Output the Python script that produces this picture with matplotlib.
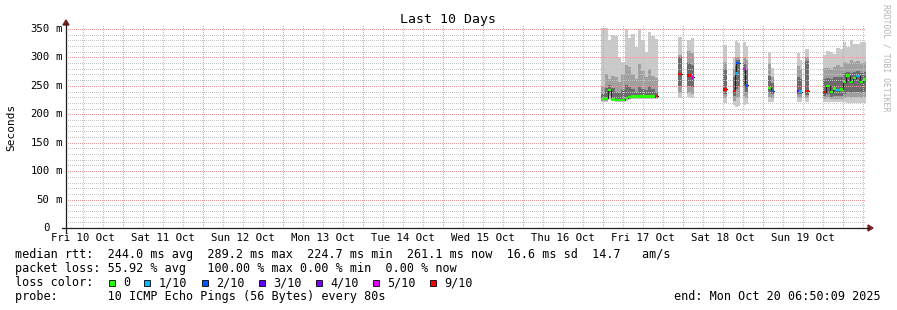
import datetime as dt
import matplotlib.pyplot as plt
import matplotlib.dates as mdates
import matplotlib.transforms as mtransforms
from matplotlib.patches import Rectangle, Polygon
from matplotlib.lines import Line2D
from matplotlib.ticker import MultipleLocator

plt.rcParams['font.family'] = ['DejaVu Sans Mono']

W, H = 897, 310
T0 = dt.datetime(2025, 10, 10)
START = dt.datetime(2025, 10, 10, 6, 50, 9)
END = dt.datetime(2025, 10, 20, 6, 50, 9)

# consolidated samples: start hour after Fri 10 Oct 00:00 (1 h each), values in ms
hours = [167.4, 168.4, 169.4, 170.4, 171.4, 172.4, 173.4, 174.4, 175.4, 176.4,
         177.4, 178.4, 179.4, 180.4, 181.4, 182.4, 183.4,
         190.5, 193.2, 194.2, 204.0, 206.8, 207.5, 207.9, 209.9, 210.5,
         217.4, 218.2, 226.0, 226.7, 228.6,
         233.9, 234.9, 235.9, 236.9, 237.9, 238.9, 239.9, 240.9, 241.9, 242.9,
         243.9, 244.9, 245.9]
ping_max = [352, 352, 330, 340, 338, 300, 292, 350, 335, 342,
            318, 350, 330, 310, 345, 338, 332,
            336, 330, 334, 322, 300, 329, 325, 327, 320,
            310, 282, 308, 296, 315,
            305, 312, 310, 306, 316, 314, 327, 318, 330, 324,
            323, 327, 327]
ping_hi80 = [250, 270, 262, 268, 265, 256, 270, 286, 283, 270,
             262, 288, 276, 266, 280, 268, 264,
             305, 312, 308, 292, 280, 300, 300, 300, 295,
             290, 265, 285, 280, 300,
             281, 282, 280, 284, 286, 283, 292, 290, 295, 292,
             294, 290, 292]
ping_hi60 = [236, 246, 252, 246, 240, 238, 242, 252, 248, 245,
             240, 248, 245, 242, 250, 245, 240,
             300, 290, 286, 280, 265, 285, 295, 290, 280,
             268, 255, 265, 262, 294,
             262, 264, 262, 265, 266, 266, 272, 275, 272, 274,
             276, 272, 274]
median = [227, 228, 243, 226, 225, 225, 225, 229, 230, 231,
          231, 231, 231, 231, 231, 231, 232,
          271, 268, 265, 244, 241, 272, 290, 280, 251,
          246, 241, 241, 240, 241,
          239, 250, 239, 245, 243, 244, 257, 268, 257, 264,
          267, 257, 261]
ping_lo40 = [225, 226, 238, 225, 224, 224, 224, 227, 228, 229,
             229, 229, 229, 229, 229, 229, 229,
             250, 250, 248, 235, 232, 245, 250, 250, 240,
             238, 235, 236, 235, 234,
             232, 236, 231, 233, 233, 233, 236, 240, 238, 240,
             240, 238, 240]
ping_lo20 = [224, 224, 232, 224, 223, 223, 223, 226, 227, 228,
             228, 228, 228, 228, 228, 228, 228,
             238, 238, 236, 228, 224, 228, 230, 232, 228,
             230, 228, 230, 229, 228,
             227, 228, 226, 227, 227, 227, 228, 230, 229, 230,
             230, 229, 230]
ping_min = [222, 222, 225, 223, 222, 222, 222, 224, 225, 226,
            226, 226, 226, 226, 226, 226, 226,
            229, 230, 228, 220, 216, 213, 215, 216, 218,
            222, 222, 222, 222, 222,
            222, 222, 221, 221, 221, 221, 221, 220, 220, 220,
            220, 220, 220]
loss = [0, 0, 0, 0, 0, 0, 0, 0, 0, 0,
        0, 0, 0, 0, 0, 0, 9,
        9, 9, 5, 9, 9, 1, 2, 5, 2,
        0, 2, 3, 1, 9,
        9, 0, 0, 0, 1, 0, 0, 0, 0, 0,
        1, 0, 0]

loss_levels = [0, 1, 2, 3, 4, 5, 9]
loss_labels = ["0", "1/10", "2/10", "3/10", "4/10", "5/10", "9/10"]
loss_colors = ["#26ff00", "#00b8ff", "#0059ff", "#5e00ff", "#7e00ff", "#dd00ff", "#ff0000"]

y_ticks = [0, 50, 100, 150, 200, 250, 300, 350]
day_labels = ["Fri 10 Oct", "Sat 11 Oct", "Sun 12 Oct", "Mon 13 Oct", "Tue 14 Oct",
              "Wed 15 Oct", "Thu 16 Oct", "Fri 17 Oct", "Sat 18 Oct", "Sun 19 Oct"]

stats_rtt = "median rtt:  244.0 ms avg  289.2 ms max  224.7 ms min  261.1 ms now  16.6 ms sd  14.7   am/s"
stats_loss = "packet loss: 55.92 % avg   100.00 % max 0.00 % min  0.00 % now"
probe_txt = "probe:       10 ICMP Echo Pings (56 Bytes) every 80s"
end_txt = "end: Mon Oct 20 06:50:09 2025"


def fx(px):
    return px / W


def fy(py):
    return 1 - py / H


fig = plt.figure(figsize=(W / 100, H / 100), dpi=100, facecolor='white')
ax = fig.add_axes([fx(66), fy(228), 800 / W, (228 - 25) / H])
ax.set_facecolor('white')

t = [T0 + dt.timedelta(hours=h) for h in hours]
bw = 1 / 24
color_of = dict(zip(loss_levels, loss_colors))

# smoke
ax.bar(t, [a - b for a, b in zip(ping_max, ping_min)], bottom=ping_min, width=bw,
       align='edge', color='#cacaca', linewidth=0, antialiased=False, zorder=1)
ax.bar(t, [a - b for a, b in zip(ping_hi80, ping_lo20)], bottom=ping_lo20, width=bw,
       align='edge', color='#a0a0a0', linewidth=0, antialiased=False, zorder=1.1)
ax.bar(t, [a - b for a, b in zip(ping_hi60, ping_lo40)], bottom=ping_lo40, width=bw,
       align='edge', color='#6c6c6c', linewidth=0, antialiased=False, zorder=1.2)

# median line, broken at gaps
run_t, run_m = [], []
for i, h in enumerate(hours):
    if run_t and h - hours[i - 1] > 1.01:
        run_t.append(T0 + dt.timedelta(hours=hours[i - 1] + 1))
        run_m.append(run_m[-1])
        ax.step(run_t, run_m, where='post', color='#202020', lw=0.8, zorder=3)
        run_t, run_m = [], []
    run_t.append(t[i])
    run_m.append(median[i])
run_t.append(T0 + dt.timedelta(hours=hours[-1] + 1))
run_m.append(run_m[-1])
ax.step(run_t, run_m, where='post', color='#202020', lw=0.8, zorder=3)

ax.bar(t, 4.4, bottom=[m - 2.2 for m in median], width=bw, align='edge',
       color=[color_of[l] for l in loss], linewidth=0, antialiased=False, zorder=4)

ax.set_xlim(START, END)
ax.set_ylim(0, 357)

ax.xaxis.set_major_locator(mdates.DayLocator())
ax.xaxis.set_minor_locator(mdates.HourLocator(byhour=[6, 12, 18]))
ax.set_yticks(y_ticks)
ax.yaxis.set_minor_locator(MultipleLocator(10))
ax.tick_params(which='both', length=0, labelbottom=False, labelleft=False)
ax.set_axisbelow(False)
ax.grid(which='minor', color='#c4c4c4', lw=0.72, ls=(0.5, (1, 1)), snap=True)
ax.grid(which='major', color='#e89a9a', lw=0.72, ls=(0.5, (1, 1)), snap=True)
for s in ax.spines.values():
    s.set_visible(False)

# axes with arrows
fig.add_artist(Line2D([fx(66), fx(66)], [fy(233), fy(23)], color='#1f1f1f', lw=0.9))
fig.add_artist(Line2D([fx(62), fx(869)], [fy(228), fy(228)], color='#1f1f1f', lw=0.9))
fig.add_artist(Polygon([[fx(63), fy(25)], [fx(69), fy(25)], [fx(66), fy(20)]],
                       closed=True, color='#7f1f1f', transform=fig.transFigure))
fig.add_artist(Polygon([[fx(868), fy(225)], [fx(868), fy(231)], [fx(873), fy(228)]],
                       closed=True, color='#7f1f1f', transform=fig.transFigure))

# y labels
ytr = mtransforms.blended_transform_factory(fig.transFigure, ax.transData)
for v in y_ticks:
    ax.text(fx(49.5), v, str(v), transform=ytr, ha='right', va='center', fontsize=7.7,
            clip_on=False)
    if v:
        ax.text(fx(55), v, "m", transform=ytr, ha='left', va='center', fontsize=7.7,
                clip_on=False)

# x labels at noon of each day
xtr = mtransforms.blended_transform_factory(ax.transData, fig.transFigure)
for i, lab in enumerate(day_labels):
    noon = mdates.date2num(T0 + dt.timedelta(days=i, hours=12))
    ax.text(noon, fy(238), lab, transform=xtr, ha='center', va='center', fontsize=7.7,
            clip_on=False)

fig.text(fx(448), fy(19), "Last 10 Days", ha='center', va='center', fontsize=9.5)
fig.text(fx(11), fy(127), "Seconds", ha='center', va='center', rotation=90, fontsize=8)
fig.text(fx(886), fy(4), "RRDTOOL / TOBI OETIKER", ha='center', va='top', rotation=270,
         fontsize=5.9, color='#b4b4b4')

# legend block
cw = 7.14
x0 = 14.5
fig.text(fx(x0), fy(254.5), stats_rtt, ha='left', va='center', fontsize=8.5)
fig.text(fx(x0), fy(268.5), stats_loss, ha='left', va='center', fontsize=8.5)
fig.text(fx(x0), fy(282.5), "loss color:", ha='left', va='center', fontsize=8.5)
col = 13.2
for lab, c in zip(loss_labels, loss_colors):
    sx = x0 + col * cw
    fig.add_artist(Rectangle((fx(sx), fy(285.5)), 6 / W, 6 / H, facecolor=c,
                             edgecolor='black', lw=0.6, transform=fig.transFigure))
    fig.text(fx(x0 + (col + 2) * cw), fy(282.5), lab, ha='left', va='center', fontsize=8.5)
    col += 4 + len(lab)
fig.text(fx(x0), fy(296.5), probe_txt, ha='left', va='center', fontsize=8.5)
fig.text(fx(881), fy(296.5), end_txt, ha='right', va='center', fontsize=8.5)

fig.savefig('out.png', dpi=100, facecolor='white')
